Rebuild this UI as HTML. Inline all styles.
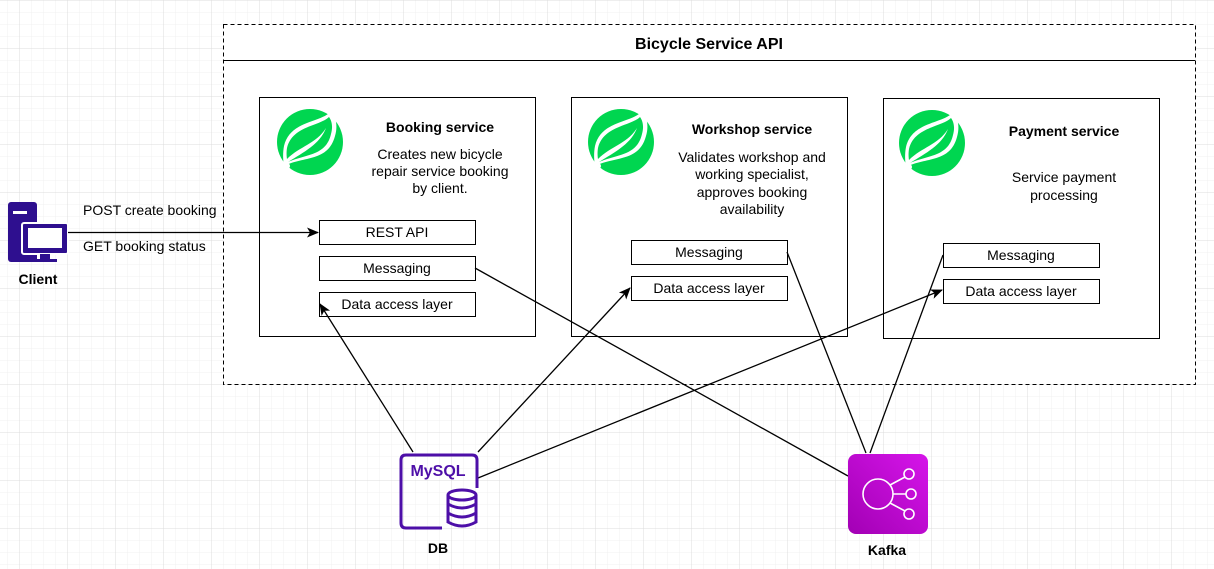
<!DOCTYPE html>
<html><head><meta charset="utf-8"><style>
html,body{margin:0;padding:0;width:1214px;height:569px;overflow:hidden;background:#fff}
svg text{font-family:"Liberation Sans",Arial,sans-serif;fill:#000}
</style></head><body>
<svg width="1214" height="569" viewBox="0 0 1214 569" xmlns="http://www.w3.org/2000/svg">
<defs>
<pattern id="minor" width="12" height="12" patternUnits="userSpaceOnUse" x="7.5" y="0.5">
<path d="M0 0H12M0 0V12" stroke="#f0f0f0" stroke-width="1" fill="none"/></pattern>
<pattern id="major" width="48" height="48" patternUnits="userSpaceOnUse" x="19.5" y="0.5">
<path d="M0 0H48M0 0V48" stroke="#dcdcdc" stroke-width="1" fill="none"/></pattern>
<marker id="ar" markerWidth="12" markerHeight="12" refX="11" refY="6" orient="auto" markerUnits="userSpaceOnUse">
<path d="M0 1 L12 6 L0 11 L3 6 Z" fill="#000"/></marker>
<linearGradient id="kg" x1="0" y1="1" x2="1" y2="0"><stop offset="0" stop-color="#a200b4"/><stop offset="1" stop-color="#d615ea"/></linearGradient>
<g id="leaf">
<circle cx="0" cy="0" r="33" fill="#00d650"/>
<path d="M21 -31 C12 -19 -20 -22 -26 4 C-28 14 -26 24 -26 24 C-6 14 18 20 25 -6 C28 -16 26 -26 21 -31 Z" fill="#fff"/>
<path d="M19 -25 C10 -16 -18 -16 -23 6 C-24 12 -23 17 -23 17 C-10 4 6 2 16 -14 C10 2 -6 10 -22 20 C-4 12 16 14 21 -8 C23 -15 22 -21 19 -25 Z" fill="#00d650"/>
<circle cx="-23" cy="24" r="3" fill="#fff"/>
</g>
</defs>
<rect width="1214" height="569" fill="url(#minor)"/>
<rect width="1214" height="569" fill="url(#major)"/>

<rect x="223.5" y="24.5" width="972" height="360" fill="#fff" stroke="#000" stroke-dasharray="4,3"/>
<line x1="223" y1="60.5" x2="1195" y2="60.5" stroke="#000"/>
<text x="709" y="49" text-anchor="middle" font-size="16" font-weight="bold">Bicycle Service API</text>

<rect x="259.5" y="97.5" width="276" height="239" fill="#fff" stroke="#000"/>
<rect x="571.5" y="97.5" width="276" height="239" fill="#fff" stroke="#000"/>
<rect x="883.5" y="98.5" width="276" height="240" fill="#fff" stroke="#000"/>

<use href="#leaf" x="310" y="142"/>
<use href="#leaf" x="621" y="142"/>
<use href="#leaf" x="932" y="143"/>

<g font-size="14">
<text x="440" y="132" text-anchor="middle" font-weight="bold">Booking service</text>
<text x="440" y="159" text-anchor="middle">Creates new bicycle</text>
<text x="440" y="176" text-anchor="middle">repair service booking</text>
<text x="440" y="193" text-anchor="middle">by client.</text>
<text x="752" y="134" text-anchor="middle" font-weight="bold">Workshop service</text>
<text x="752" y="162" text-anchor="middle">Validates workshop and</text>
<text x="752" y="179" text-anchor="middle">working specialist,</text>
<text x="752" y="197" text-anchor="middle">approves booking</text>
<text x="752" y="214" text-anchor="middle">availability</text>
<text x="1064" y="136" text-anchor="middle" font-weight="bold">Payment service</text>
<text x="1064" y="182" text-anchor="middle">Service payment</text>
<text x="1064" y="200" text-anchor="middle">processing</text>
</g>

<g fill="#fff" stroke="#000">
<rect x="319.5" y="220.5" width="156" height="24"/>
<rect x="319.5" y="256.5" width="156" height="24"/>
<rect x="319.5" y="292.5" width="156" height="24"/>
<rect x="631.5" y="240.5" width="156" height="24"/>
<rect x="631.5" y="276.5" width="156" height="24"/>
<rect x="943.5" y="243.5" width="156" height="24"/>
<rect x="943.5" y="279.5" width="156" height="24"/>
</g>
<g font-size="14" text-anchor="middle">
<text x="397" y="237">REST API</text>
<text x="397" y="273">Messaging</text>
<text x="397" y="309">Data access layer</text>
<text x="709" y="257">Messaging</text>
<text x="709" y="293">Data access layer</text>
<text x="1021" y="260">Messaging</text>
<text x="1021" y="296">Data access layer</text>
</g>

<g fill="#2e0f8f">
<rect x="8" y="202" width="29" height="60" rx="3"/>
<rect x="22" y="223" width="46" height="31" rx="2" stroke="#fff" stroke-width="2"/>
<rect x="28" y="228" width="34" height="20" fill="#fff"/>
<rect x="13" y="211" width="14" height="3" fill="#fff"/>
<rect x="40" y="254" width="10" height="6"/>
<rect x="33" y="259" width="24" height="3"/>
</g>
<text x="38" y="284" font-size="14" font-weight="bold" text-anchor="middle">Client</text>
<text x="83" y="215" font-size="14">POST create booking</text>
<text x="83" y="251" font-size="14">GET booking status</text>

<g stroke="#000" stroke-width="1.3" fill="none">
<line x1="68" y1="232.5" x2="318" y2="232.5" marker-end="url(#ar)"/>
<line x1="413" y1="452" x2="320" y2="304" marker-end="url(#ar)"/>
<line x1="478" y1="452" x2="630" y2="288" marker-end="url(#ar)"/>
<line x1="478" y1="478" x2="942" y2="290" marker-end="url(#ar)"/>
<line x1="475" y1="268" x2="848" y2="476"/>
<line x1="787" y1="252" x2="866" y2="453"/>
<line x1="870" y1="453" x2="943" y2="255"/>
</g>

<g stroke="#4d0fa8" stroke-width="3" fill="none">
<path d="M442 528 H406 Q401 528 401 523 V460 Q401 455 406 455 H472 Q477 455 477 460 V488"/>
<ellipse cx="462" cy="495" rx="14" ry="5" fill="#fff"/>
<path d="M448 495 V522 Q462 530 476 522 V495"/>
<path d="M448 504 Q462 512 476 504 M448 513 Q462 521 476 513"/>
</g>
<text x="438" y="476" font-size="16" font-weight="bold" style="fill:#4d0fa8" text-anchor="middle">MySQL</text>
<text x="438" y="553" font-size="14" font-weight="bold" text-anchor="middle">DB</text>

<rect x="848" y="454" width="80" height="80" rx="8" fill="url(#kg)"/>
<g stroke="#fff" stroke-width="1.6" fill="none">
<circle cx="878" cy="494" r="15"/>
<circle cx="909" cy="474" r="5"/>
<circle cx="911" cy="494" r="5"/>
<circle cx="909" cy="514" r="5"/>
<path d="M893 494 H906 M890 485 L905 477 M890 503 L905 511"/>
</g>
<text x="887" y="555" font-size="14" font-weight="bold" text-anchor="middle">Kafka</text>
</svg>
</body></html>
